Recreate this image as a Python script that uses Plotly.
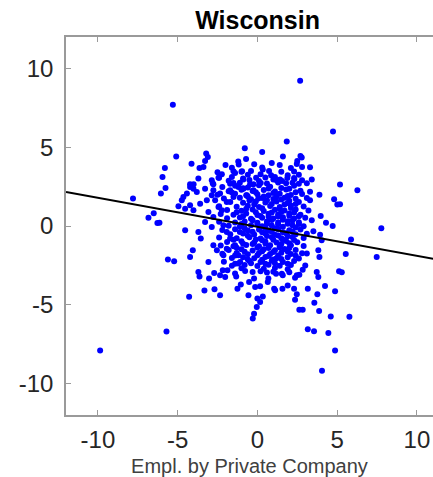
import plotly.graph_objects as go

# ---- data (x = Empl. by Private Company, y = residual) ----
outlier_pts = [
    (2.68, 9.22), (-5.3, 7.7), (4.74, 6.0), (1.84, 5.36), (-9.86, -7.9), (-5.7, -6.7),
    (4.05, -9.19), (4.87, -7.9), (7.77, -0.15), (6.27, 2.27), (5.18, 2.64), (5.18, 1.38),
    (5.87, -0.85), (5.54, -1.78), (7.48, -1.97), (5.29, -2.94), (5.77, -5.76), (-7.8, 1.74),
    (-6.5, 0.81), (-6.83, 0.53), (-6.27, 0.19), (-6.14, 0.21), (-5.09, 4.41), (-5.8, 3.68),
    (-5.95, 3.11), (-5.76, 2.41), (-6.05, 2.06), (-4.95, 1.25), (-5.61, -2.13), (-5.22, -2.24),
    (4.6, -5.74), (3.55, -6.69), (3.16, -6.56), (4.45, -6.8), (2.63, -5.31), (2.84, -5.31),
    (3.87, -5.4), (3.57, -4.87), (4.87, -4.15), (4.24, -3.81), (3.76, -4.34), (3.16, -3.98),
    (-0.29, -5.88), (-0.21, -5.57), (-0.04, -5.15), (0.0, -4.61), (-4.28, -4.49), (-3.32, -4.09),
    (-2.69, -4.02), (-2.34, -4.4),
]

upper_pts = [
    (-0.79, 4.94), (-0.71, 4.26), (-3.21, 4.6), (-3.11, 4.38), (-3.28, 4.13), (-4.13, 3.96),
    (-3.63, 3.69), (-3.38, 3.75), (-1.17, 3.9), (-3.7, 3.01), (-2.5, 3.41), (-2.23, 3.28),
    (-0.96, 3.47), (-1.5, 3.47), (-1.4, 3.37), (-1.6, 3.11), (-2.44, 3.07), (-2.86, 2.9),
    (-0.88, 2.95), (-0.08, 3.07), (-4.22, 2.65), (-4.0, 2.65), (-2.76, 2.65), (-1.71, 2.69),
    (-1.5, 2.73), (-0.46, 2.65), (-0.25, 2.65), (2.78, 4.35), (0.9, 4.0), (2.47, 3.94),
    (2.8, 3.75), (3.3, 3.73), (0.34, 3.58), (0.73, 3.49), (0.86, 3.22), (1.1, 3.11),
    (1.0, 2.95), (1.2, 2.9), (1.42, 2.95), (1.55, 2.86), (1.88, 3.05), (2.32, 2.99),
    (3.41, 2.95), (0.21, 2.73),
    (0.3, 4.7), (1.6, 4.42), (2.7, 4.45), (-1.2, 4.1), (2.5, 4.12), (-2.0, 3.88),
    (-0.2, 3.92), (1.4, 3.88), (-1.6, 3.7), (0.3, 3.72), (2.1, 3.68), (-1.0, 3.45),
    (-0.4, 3.5), (1.5, 3.44), (2.3, 3.46), (-0.6, 3.25), (0.2, 3.28), (1.9, 3.22),
    (2.6, 3.26), (-2.4, 3.06), (-0.9, 3.02), (0.5, 3.08), (2.3, 3.04), (-1.8, 2.88),
    (-0.5, 2.92), (0.1, 2.86), (2.8, 2.9), (-2.8, 2.72), (-1.1, 2.75), (0.6, 2.7),
    (1.3, 2.76), (1.8, 2.71), (2.2, 2.74), (2.6, 2.69), (3.1, 2.72),
]

lower_pts = [
    (-3.7, -2.92), (-3.63, -3.2), (-3.03, -3.34), (-2.71, -2.99), (-2.34, -3.13), (-2.17, -2.81),
    (-1.88, -2.81), (-2.02, -3.24), (-1.4, -3.02), (-1.33, -3.2), (-0.77, -2.86), (-0.21, -3.34),
    (-3.07, -2.29), (-1.4, -2.39), (-1.08, -2.29), (-1.25, -3.98), (-1.04, -3.72), (-0.56, -4.4),
    (-0.52, -3.56), (-0.14, -3.87),
    (2.36, -4.68), (2.47, -4.34), (2.3, -3.98), (1.9, -3.77), (1.57, -3.98), (1.11, -4.08),
    (1.05, -3.98), (0.34, -4.47), (0.17, -4.83), (0.17, -3.83), (0.65, -3.56), (0.69, -3.34),
    (2.36, -3.28), (2.47, -3.13), (2.63, -3.09), (2.84, -2.77), (3.72, -2.92), (3.82, -3.24),
    (5.12, -2.88), (1.17, -3.03), (1.53, -3.03), (1.59, -3.13),
    (-0.3, -2.92), (0.2, -2.88), (0.6, -2.95), (1.0, -2.9), (2.0, -2.93),
]

left_pts = [
    (-4.53, -0.27), (-3.7, -0.38), (-3.55, -0.8), (-4.05, -1.54), (-4.22, -1.97), (-2.76, -1.23),
    (-2.54, -1.54), (-3.28, 0.25), (-2.86, -0.06),
    (-4.22, 2.48), (-4.01, 2.37), (-3.8, 2.16), (-4.42, 2.06), (-4.64, 1.84), (-4.74, 1.63),
    (-4.22, 1.32), (-4.53, 1.1), (-4.01, 1.0), (-3.28, 2.37), (-2.76, 2.27), (-2.86, 1.95),
    (-2.65, 1.63), (-2.34, 2.06), (-3.17, 1.63), (-3.59, 1.42), (-2.44, 1.21), (-2.23, 1.0),
    (-3.07, 0.89), (-2.76, 0.57), (-1.92, 1.52), (-1.71, 2.27), (-1.5, 1.84), (-1.19, 2.48),
    (-0.88, 2.37), (-0.66, 1.95), (-0.25, 2.27), (0.06, 1.74), (-2.13, 0.04), (-1.92, -0.38),
    (-1.71, -0.8), (-1.92, -1.44), (-2.13, -1.86), (-1.4, -1.23), (-1.19, -1.86),
]

right_pts = [
    (3.89, 1.99), (4.81, 1.7), (5.01, 1.36), (3.3, 1.63), (3.97, 0.64), (4.3, 0.21),
    (4.72, 0.0), (3.41, 0.36), (3.51, -0.34), (3.93, -0.55), (4.03, -0.91), (3.82, -1.54),
    (3.1, -1.75), (3.89, -1.97),
]

core_pts = [
    (-2.2, 2.48), (-1.4, 2.55), (-0.6, 2.44), (0.1, 2.58), (0.8, 2.5), (1.5, 2.42), (2.3, 2.56),
    (-1.8, 2.2), (-1.0, 2.3), (-0.3, 2.22), (0.4, 2.28), (1.1, 2.19), (1.8, 2.31), (2.7, 2.24), (3.3, 2.18),
    (-2.5, 1.98), (-1.4, 2.04), (-0.7, 1.95), (0.0, 2.02), (0.7, 1.96), (1.4, 2.05), (2.1, 1.97), (2.8, 2.03),
    (-2.1, 1.74), (-1.1, 1.79), (-0.4, 1.7), (0.3, 1.77), (1.0, 1.72), (1.7, 1.8), (2.4, 1.73), (3.1, 1.78),
    (-1.7, 1.52), (-0.9, 1.47), (-0.1, 1.55), (0.5, 1.49), (1.2, 1.56), (1.9, 1.46), (2.6, 1.53),
    (-2.4, 1.26), (-1.3, 1.22), (-0.6, 1.29), (0.1, 1.21), (0.8, 1.27), (1.4, 1.2), (2.1, 1.3), (2.9, 1.24),
    (-1.9, 1.02), (-1.0, 0.97), (-0.3, 1.04), (0.4, 0.96), (1.1, 1.03), (1.7, 0.98), (2.4, 1.05), (3.2, 0.99),
    (-2.3, 0.76), (-1.5, 0.72), (-0.7, 0.79), (0.0, 0.7), (0.7, 0.77), (1.3, 0.73), (2.0, 0.8), (2.7, 0.71),
    (-1.9, 0.49), (-1.1, 0.54), (-0.4, 0.46), (0.3, 0.53), (1.0, 0.47), (1.6, 0.55), (2.3, 0.48), (3.0, 0.52),
    (-2.4, 0.27), (-1.4, 0.22), (-0.8, 0.29), (0.0, 0.21), (0.6, 0.28), (1.3, 0.23), (1.9, 0.3), (2.6, 0.24),
    (-1.8, 0.02), (-1.1, -0.03), (-0.4, 0.04), (0.3, -0.02), (0.9, 0.03), (1.6, -0.04), (2.2, 0.05), (2.9, -0.01),
    (-2.2, -0.26), (-1.4, -0.21), (-0.6, -0.28), (0.1, -0.22), (0.7, -0.29), (1.3, -0.2), (2.0, -0.27), (2.7, -0.23),
    (-1.7, -0.52), (-0.9, -0.47), (-0.2, -0.54), (0.5, -0.48), (1.1, -0.55), (1.8, -0.46), (2.4, -0.53), (3.1, -0.49),
    (-2.4, -0.73), (-1.3, -0.78), (-0.5, -0.71), (0.2, -0.79), (0.9, -0.72), (1.5, -0.77), (2.2, -0.7), (2.9, -0.76),
    (-1.9, -1.02), (-1.0, -0.97), (-0.2, -1.05), (0.5, -0.98), (1.2, -1.04), (1.8, -0.96), (2.5, -1.03),
    (-2.3, -1.24), (-1.5, -1.29), (-0.7, -1.21), (0.1, -1.28), (0.8, -1.22), (1.4, -1.3), (2.1, -1.23), (2.9, -1.27),
    (-1.8, -1.52), (-1.0, -1.47), (-0.3, -1.55), (0.4, -1.48), (1.1, -1.54), (1.7, -1.46), (2.4, -1.53),
    (-2.2, -1.76), (-1.3, -1.71), (-0.6, -1.79), (0.1, -1.72), (0.8, -1.78), (1.5, -1.7), (2.1, -1.77), (2.8, -1.73),
    (-1.6, -2.03), (-0.9, -1.98), (-0.2, -2.05), (0.5, -1.97), (1.2, -2.04), (1.9, -1.99), (2.6, -2.06),
    (-2.1, -2.27), (-0.5, -2.22), (0.2, -2.29), (0.9, -2.21), (1.6, -2.28), (2.3, -2.23),
    (-1.6, -2.52), (-0.8, -2.47), (0.0, -2.54), (0.7, -2.46), (1.4, -2.53), (2.1, -2.48), (3.0, -2.51),
    (-1.0, -2.69), (0.4, -2.72), (1.1, -2.67), (1.9, -2.74),
]

center_pts = [
    (-0.5, 1.62), (0.6, 1.63), (1.5, 1.68), (2.0, 1.6), (-0.2, 1.37), (0.9, 1.4), (1.7, 1.36),
    (2.4, 1.4), (-0.7, 1.1), (0.3, 1.12), (1.4, 1.1), (2.1, 1.14), (-1.3, 0.87), (-0.1, 0.88),
    (0.9, 0.85), (1.5, 0.89), (2.3, 0.86), (-0.9, 0.62), (0.2, 0.64), (0.7, 0.6), (1.3, 0.61),
    (2.0, 0.65), (2.6, 0.62), (-0.3, 0.36), (0.9, 0.38), (1.6, 0.4), (2.2, 0.35), (-1.0, 0.13),
    (0.0, 0.1), (0.6, 0.14), (1.3, 0.11), (1.9, 0.15), (2.6, 0.12), (-0.8, -0.14), (0.5, -0.12),
    (1.1, -0.15), (2.4, -0.1), (-1.1, -0.38), (-0.3, -0.37), (0.3, -0.4), (0.9, -0.36),
    (1.6, -0.39), (2.2, -0.35), (-0.6, -0.62), (0.6, -0.64), (1.3, -0.6), (1.9, -0.65),
    (-1.5, -0.88), (-0.1, -0.86), (0.3, -0.9), (1.0, -0.87), (1.6, -0.85), (2.3, -0.89),
    (-0.9, -1.12), (-0.3, -1.15), (0.5, -1.11), (1.5, -1.14), (2.0, -1.1), (-1.3, -1.38),
    (0.0, -1.36), (0.7, -1.4), (1.4, -1.37), (2.0, -1.39), (-0.8, -1.63), (0.3, -1.6),
    (1.0, -1.65), (1.9, -1.62), (-1.4, -1.88), (0.0, -1.86), (0.7, -1.9), (1.3, -1.87),
    (2.4, -1.89), (-0.6, -2.12), (0.3, -2.15), (1.0, -2.13), (1.5, -2.1), (-1.2, -2.38),
    (-0.4, -2.36), (0.5, -2.4), (1.1, -2.36), (1.9, -2.39), (-0.6, 1.87), (0.4, 1.88),
    (1.2, 1.86), (1.9, 1.9), (-1.6, 2.12), (-0.1, 2.14), (1.0, 2.1), (2.4, 2.15), (-0.9, 2.4),
    (0.7, 2.38), (2.0, 2.36),
]

# least-squares line as drawn in the reference
fit_slope = -0.184
fit_intercept = -0.047
fit_x = [-12, 12]

x_ticks = [-10, -5, 0, 5, 10]
y_ticks = [-10, -5, 0, 5, 10]

all_pts = outlier_pts + upper_pts + lower_pts + left_pts + right_pts + core_pts + center_pts
emp_x = [p[0] for p in all_pts]
emp_y = [p[1] for p in all_pts]
fit_y = [fit_intercept + fit_slope * v for v in fit_x]

FONT = "Liberation Sans, Arial, Helvetica, sans-serif"
AXC = "#9a9a9a"

fig = go.Figure()
fig.add_trace(go.Scatter(
    x=emp_x, y=emp_y, mode="markers",
    marker=dict(color="#0000ff", size=6, line=dict(width=0)),
    hoverinfo="skip", showlegend=False,
))
fig.add_trace(go.Scatter(
    x=fit_x, y=fit_y, mode="lines",
    line=dict(color="black", width=2),
    hoverinfo="skip", showlegend=False,
))

fig.update_layout(
    width=433, height=477,
    margin=dict(l=66, r=0, t=37, b=62),
    paper_bgcolor="white", plot_bgcolor="white",
    font=dict(family=FONT, color="#262626"),
    title=dict(
        text="Wisconsin", x=0.522, xref="paper", xanchor="center",
        y=1 - 20 / 477, yref="container", yanchor="middle",
        font=dict(family=FONT, size=25, color="black", weight="bold"),
    ),
    xaxis=dict(
        range=[-12, 11.01], tickvals=x_ticks, ticktext=[str(v) for v in x_ticks],
        ticks="inside", ticklen=5, tickcolor=AXC, tickwidth=1,
        showline=True, linecolor=AXC, linewidth=1.5, mirror="ticks",
        showgrid=False, zeroline=False,
        tickfont=dict(size=24, color="#262626"),
        ticklabelstandoff=2,
        title=dict(text="Empl. by Private Company", standoff=9,
                   font=dict(size=20, color="#404040")),
    ),
    yaxis=dict(
        range=[-12, 12], tickvals=y_ticks, ticktext=[str(v) for v in y_ticks],
        ticks="inside", ticklen=5, tickcolor=AXC, tickwidth=1,
        showline=True, linecolor=AXC, linewidth=1.5, mirror=False,
        showgrid=False, zeroline=False,
        tickfont=dict(size=24, color="#262626"),
        ticklabelstandoff=6,
    ),
)

fig.write_html("out.html")
